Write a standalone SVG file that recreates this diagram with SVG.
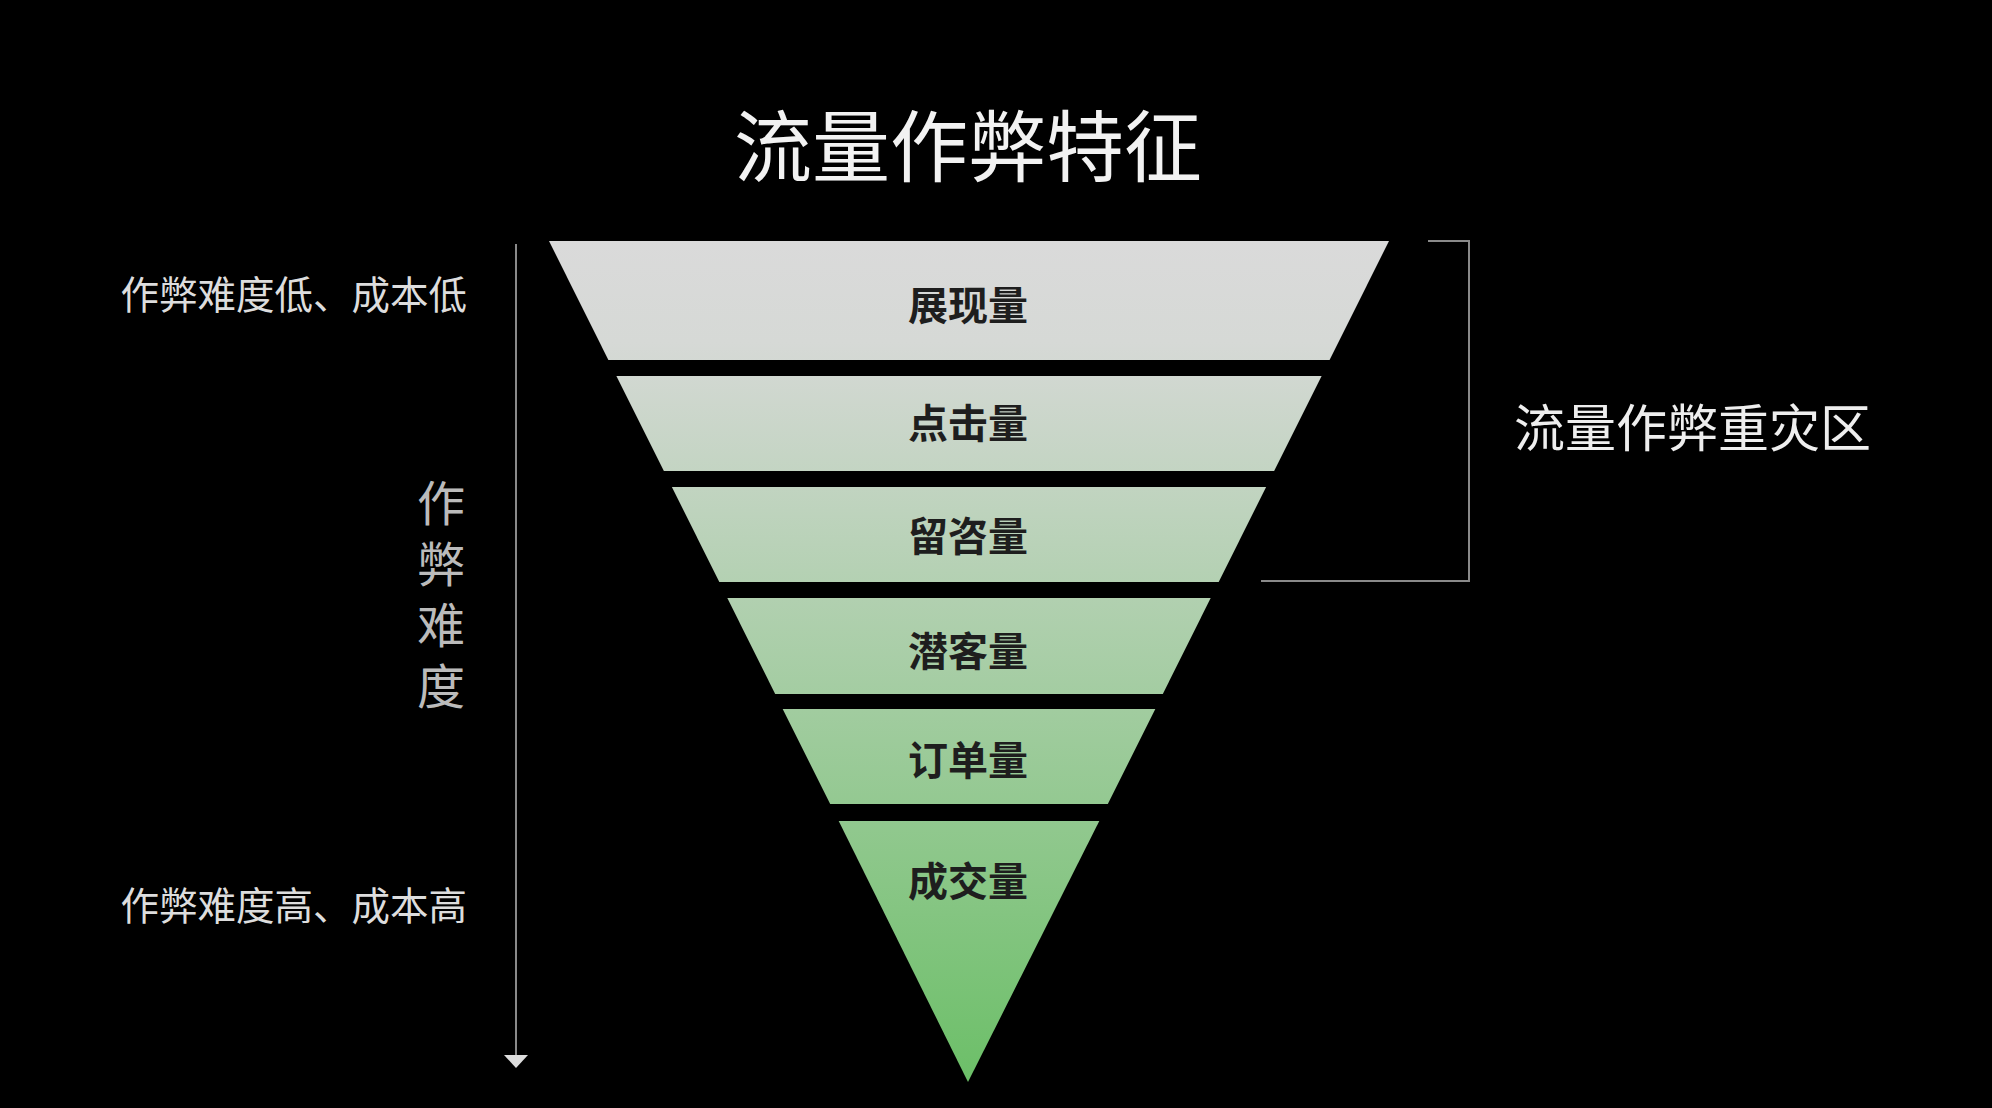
<svg xmlns="http://www.w3.org/2000/svg" width="1992" height="1108" viewBox="0 0 1992 1108">
<defs>
<linearGradient id="g" gradientUnits="userSpaceOnUse" x1="0" y1="241" x2="0" y2="1082">
<stop offset="0" stop-color="#dadada"/><stop offset="0.12" stop-color="#d6d9d6"/><stop offset="1" stop-color="#6cbf68"/>
</linearGradient>
<style>
text{font-family:"Noto Sans CJK SC","Noto Sans",sans-serif}
.band{fill:url(#g)}
.lbl{font-size:40px;font-weight:bold;fill:#1e1e1e;text-anchor:middle}
.side{font-size:38.5px;fill:#dddddd;text-anchor:end}
.vert{font-size:48px;fill:#bbbbbb;text-anchor:middle}
</style>
</defs>
<rect width="1992" height="1108" fill="#000"/>
<text x="968" y="176" font-size="78" fill="#f2f2f2" text-anchor="middle">流量作弊特征</text>
<g id="band1"><polygon class="band" points="549,241 1389,241 1329.6,360 608.4,360"/><text class="lbl" x="968" y="320">展现量</text></g>
<g id="band2"><polygon class="band" points="616.4,376 1321.6,376 1274.1,471 663.9,471"/><text class="lbl" x="968" y="438">点击量</text></g>
<g id="band3"><polygon class="band" points="671.9,487 1266.1,487 1218.7,582 719.3,582"/><text class="lbl" x="968" y="551">留咨量</text></g>
<g id="band4"><polygon class="band" points="727.3,598 1210.7,598 1162.8,694 775.2,694"/><text class="lbl" x="968" y="666">潜客量</text></g>
<g id="band5"><polygon class="band" points="782.7,709 1155.3,709 1107.8,804 830.2,804"/><text class="lbl" x="968" y="775">订单量</text></g>
<g id="band6"><polygon class="band" points="838.7,821 1099.3,821 968,1082"/><text class="lbl" x="968" y="896">成交量</text></g>
<g id="connectors" fill="none" stroke="#8a8a8a" stroke-width="2">
<line x1="516" y1="244" x2="516" y2="1056"/>
<polygon points="504,1055 528,1055 516,1068" fill="#dddddd" stroke="none"/>
<polyline points="1428,241 1469,241 1469,581 1261,581"/>
</g>
<g id="axis-labels">
<text class="side" x="467" y="309">作弊难度低、成本低</text>
<text class="side" x="467" y="920">作弊难度高、成本高</text>
<text class="vert" x="441" y="521">作</text>
<text class="vert" x="441" y="582">弊</text>
<text class="vert" x="441" y="643">难</text>
<text class="vert" x="441" y="704">度</text>
</g>
<g id="zone-label"><text x="1514" y="447" font-size="51" fill="#eeeeee">流量作弊重灾区</text></g>
</svg>
